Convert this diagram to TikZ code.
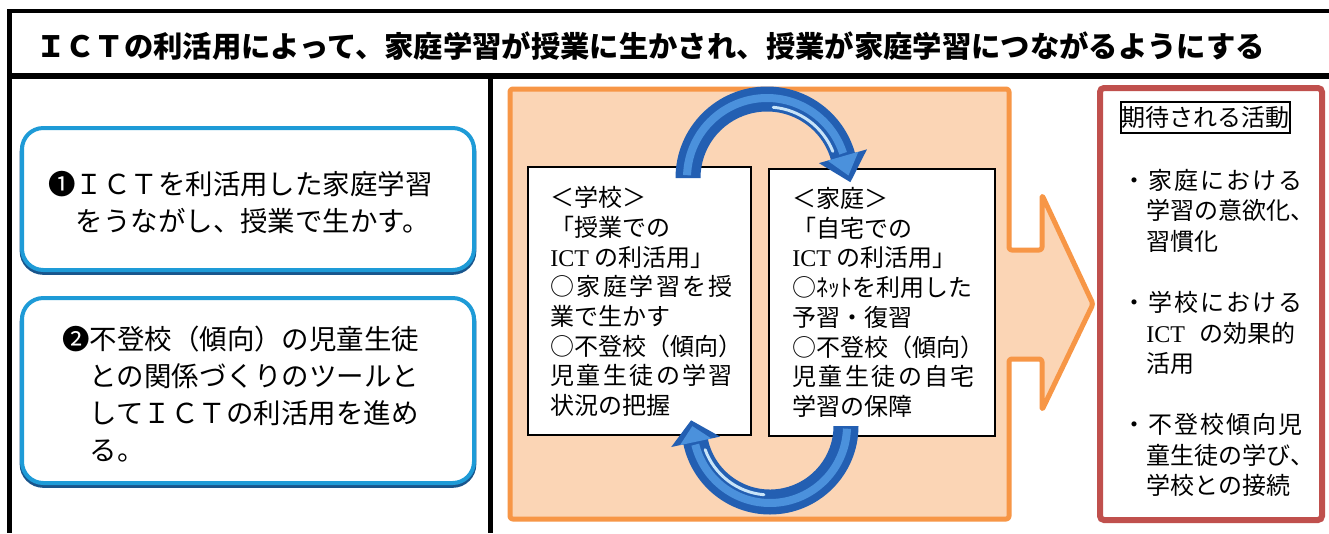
\documentclass[tikz,border=0pt]{standalone}
\usepackage{fontspec}
\setmainfont{Noto Sans CJK JP}
\newfontfamily\lat{Liberation Serif}
\usetikzlibrary{calc}
\definecolor{peach}{RGB}{251,213,181}
\definecolor{orng}{RGB}{247,150,70}
\definecolor{redb}{RGB}{192,80,77}
\definecolor{bluebd}{RGB}{30,155,215}
\definecolor{blueshd}{RGB}{25,85,140}
\definecolor{arrdark}{RGB}{35,95,178}
\definecolor{arrmid}{RGB}{75,145,220}
\definecolor{arrlight}{RGB}{200,228,248}
\newcommand\spreadline[2]{\makebox[#1][s]{#2}}
\begin{document}
\begin{tikzpicture}[x=0.75pt,y=-0.75pt,
  frameline/.style={line width=#1, black},
  bluebox/.style={draw=bluebd, line width=3pt, fill=white, rounded corners=16pt, inner sep=0},
  blueshadow/.style={draw=blueshd, line width=3.5pt, fill=gray!25, rounded corners=16pt, inner sep=0},
  infobox/.style={draw=black, line width=1.1pt, fill=white, inner sep=0},
  txt/.style={anchor=north west, inner sep=0, align=left},
  midtxt/.style={txt, font=\fontsize{18}{22.3}\selectfont},
  lefttxt/.style={txt, font=\fontsize{20.6}{27.75}\selectfont},
]
\useasboundingbox (0,0) rectangle (1329,533);
\fill[white] (0,0) rectangle (1329,533);

% outer frame
\draw[frameline=3pt] (7,11) -- (1329,11);
\draw[frameline=3.75pt] (9.5,9.5) -- (9.5,533);
\draw[frameline=4.5pt] (7,76) -- (1329,76);
\draw[frameline=3.75pt] (490,76) -- (490,533);

\node[anchor=west, inner sep=0, font=\fontsize{22}{26}\selectfont\bfseries] (head) at (36,46)
  {ＩＣＴの利活用によって、家庭学習が授業に生かされ、授業が家庭学習につながるようにする};

% left boxes
\node[blueshadow, minimum width=339pt, minimum height=106.5pt] (box1s) at (248,201.5) {};
\node[bluebox, minimum width=339pt, minimum height=106.5pt] (box1) at (248,199) {};
\node[blueshadow, minimum width=339pt, minimum height=138.75pt] (box2s) at (248,393) {};
\node[bluebox, minimum width=339pt, minimum height=138.75pt] (box2) at (248,390.5) {};

\node[lefttxt] (t1) at (48,170.6)
  {❶ＩＣＴを利活用した家庭学習\\\hphantom{❶}をうながし、授業で生かす。};
\node[lefttxt] (t2) at (62,325.6)
  {❷不登校（傾向）の児童生徒\\\hphantom{❷}との関係づくりのツールと\\\hphantom{❷}してＩＣＴの利活用を進め\\\hphantom{❷}る。};

% middle panel: orange box + big arrow
\draw[orng, fill=peach, line width=3.75pt, line join=round, rounded corners=2pt]
  (510,89) -- (1009,89) -- (1009,250) -- (1042,250) -- (1042,195) -- (1093,304)
  -- (1042,410) -- (1042,359) -- (1009,359) -- (1009,519) -- (510,519) -- cycle;

\node[infobox, minimum width=167.25pt, minimum height=201pt] (school) at (639.5,301) {};
\node[infobox, minimum width=169.5pt, minimum height=200.25pt] (home) at (882,302.5) {};

\node[midtxt] (schooltxt) at (550,186)
  {＜学校＞\\
   「授業での\\
   {\lat ICT}\hspace{4pt}の利活用」\\
   \spreadline{137pt}{○\hfill 家\hfill 庭\hfill 学\hfill 習\hfill を\hfill 授}\\
   業で生かす\\
   ○不登校（傾向）\\
   \spreadline{137pt}{児\hfill 童\hfill 生\hfill 徒\hfill の\hfill 学\hfill 習}\\
   状況の把握};
\node[midtxt] (hometxt) at (792,187)
  {＜家庭＞\\
   「自宅での\\
   {\lat ICT}\hspace{4pt}の利活用」\\
   ○ﾈｯﾄを利用した\\
   予習・復習\\
   ○不登校（傾向）\\
   \spreadline{137pt}{児\hfill 童\hfill 生\hfill 徒\hfill の\hfill 自\hfill 宅}\\
   学習の保障};

% circular arrows
\coordinate (c1) at (767,178);
\coordinate (c2) at (770,426);
% top arrow: school -> home
\fill[arrdark] ($(c1)+(180:91.5)$) arc[start angle=180,end angle=344,radius=91.5]
  -- ($(c1)+(344:104)$) -- ($(c1)+(344:79)+(74:27)$) -- ($(c1)+(344:54)$)
  -- ($(c1)+(344:66.5)$) arc[start angle=344,end angle=180,radius=66.5] -- cycle;
\draw[arrmid, line width=6pt] ($(c1)+(182:80)$) arc[start angle=182,end angle=342,radius=80];
\draw[arrlight, line width=2.2pt, line cap=round] ($(c1)+(275:71)$) arc[start angle=275,end angle=338,radius=71];
\fill[arrmid] ($(c1)+(344:95)$) -- ($(c1)+(344:79)+(74:20)$) -- ($(c1)+(344:63)$) -- cycle;
% bottom arrow: home -> school
\fill[arrdark] ($(c2)+(0:88.5)$) arc[start angle=0,end angle=168,radius=88.5]
  -- ($(c2)+(168:101)$) -- ($(c2)+(168:76)+(258:22)$) -- ($(c2)+(168:51)$)
  -- ($(c2)+(168:63.5)$) arc[start angle=168,end angle=0,radius=63.5] -- cycle;
\draw[arrmid, line width=6pt] ($(c2)+(2:77)$) arc[start angle=2,end angle=166,radius=77];
\draw[arrlight, line width=2.2pt, line cap=round] ($(c2)+(95:69)$) arc[start angle=95,end angle=160,radius=69];
\fill[arrmid] ($(c2)+(168:92)$) -- ($(c2)+(168:76)+(258:16)$) -- ($(c2)+(168:60)$) -- cycle;

% right panel
\draw[redb, line width=4.5pt, rounded corners=3pt] (1100,88) rectangle (1322,520);
\node[draw=black, line width=1.1pt, inner sep=0, minimum width=126.75pt, minimum height=23.25pt,
  font=\fontsize{18}{22}\selectfont] (title) at (1205.5,117.5) {期待される活動};
\node[txt, font=\fontsize{18}{22.9}\selectfont] (acts) at (1122,169)
  {\spreadline{135pt}{・\hfill 家\hfill 庭\hfill に\hfill お\hfill け\hfill る}\\
   \hphantom{・}学習の意欲化、\\
   \hphantom{・}習慣化\\[22.9pt]
   \spreadline{135pt}{・\hfill 学\hfill 校\hfill に\hfill お\hfill け\hfill る}\\
   \hphantom{・}{\lat ICT}\hspace{11pt}の効果的\\
   \hphantom{・}活用\\[22.9pt]
   \spreadline{135pt}{・\hfill 不\hfill 登\hfill 校\hfill 傾\hfill 向\hfill 児}\\
   \hphantom{・}童生徒の学び、\\
   \hphantom{・}学校との接続};
\end{tikzpicture}
\end{document}
